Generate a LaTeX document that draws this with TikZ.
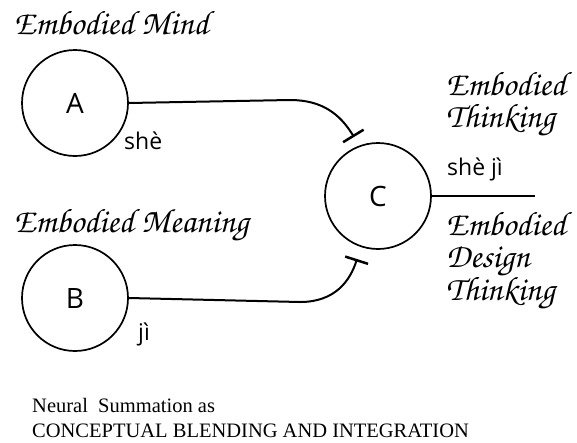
\documentclass[tikz,border=0pt]{standalone}
\usepackage[T1]{fontenc}
\usepackage{fontspec}
\usetikzlibrary{arrows.meta}
\newfontfamily\sansf{Open Sans}
\newfontfamily\timesf{Liberation Serif}
\newcommand\chan{\fontencoding{T1}\fontfamily{pzc}\fontseries{mb}\fontshape{it}\selectfont}
\tikzset{
  neuron/.style={circle, draw, line width=1.7pt, minimum size=106pt, inner sep=0pt, font=\sansf\fontsize{28}{30}\selectfont},
  callig/.style={anchor=base west, inner sep=0pt, font=\chan\fontsize{34}{36}\selectfont},
  pinyin/.style={anchor=base west, inner sep=0pt, font=\sansf\fontsize{23}{26}\selectfont},
  capt/.style={anchor=base west, inner sep=0pt, font=\timesf\fontsize{20.5}{24}\selectfont},
  wire/.style={line width=2pt},
  inhib/.style={wire, -{Bar[width=24pt,line width=2.5pt]}}
}
\begin{document}
\begin{tikzpicture}[x=1pt,y=-1pt]
\useasboundingbox (0,0) rectangle (577,442);
\node[neuron] (A) at (75,103) {A};
\node[neuron] (B) at (75,298) {B};
\node[neuron] (C) at (378,196) {C};
\node[callig] (tMind) at (14,34) {Embodied Mind};
\node[callig] (tMeaning) at (14,232) {Embodied Meaning};
\node[callig] (tET1) at (446,95) {Embodied};
\node[callig] (tET2) at (446,127) {Thinking};
\node[callig] (tED1) at (446,235) {Embodied};
\node[callig] (tED2) at (446,267) {Design};
\node[callig] (tED3) at (446,300) {Thinking};
\node[pinyin] (she) at (124,149) {shè};
\node[pinyin] (ji) at (138,340) {jì};
\node[pinyin] (sheji) at (447,175) {shè jì};
\node[capt] (cap1) at (32,412) {Neural\ \ Summation as};
\node[capt] (cap2) at (32,437) {CONCEPTUAL BLENDING AND INTEGRATION};
\coordinate (aK) at (290,100);
\coordinate (aT) at (354,137);
\coordinate (bK) at (300,302);
\coordinate (bT) at (357,259);
\coordinate (cE) at (535,196);
\draw[inhib] (A.east) -- (aK) .. controls (322,100) and (340,114) .. (aT);
\draw[inhib] (B.east) -- (bK) .. controls (335,302) and (350,281) .. (bT);
\draw[wire] (C.east) -- (cE);
\end{tikzpicture}
\end{document}
